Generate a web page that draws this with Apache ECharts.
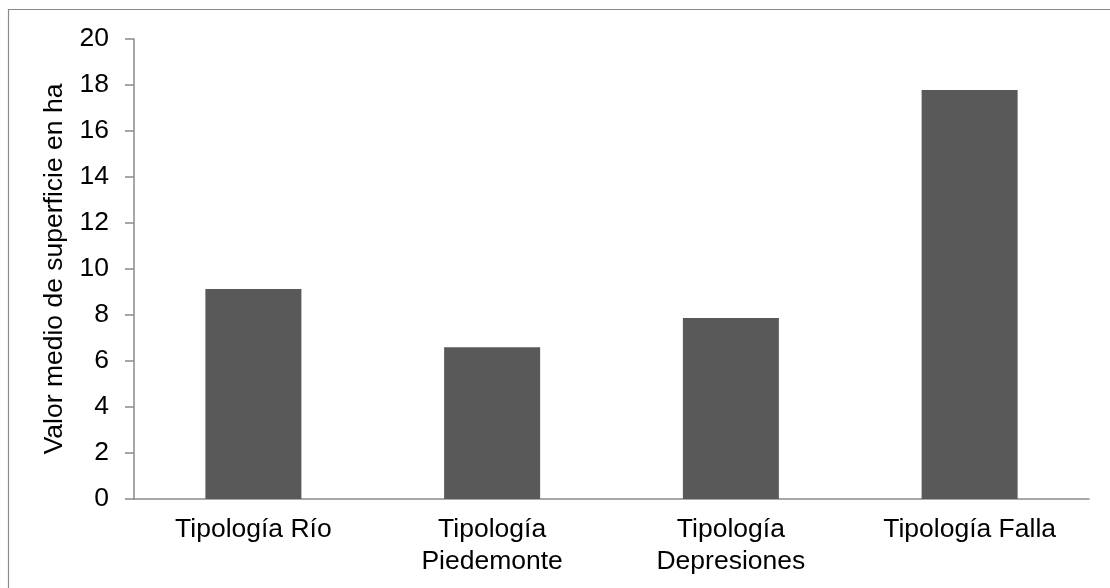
<!DOCTYPE html>
<html>
<head>
<meta charset="utf-8">
<script src="https://cdn.jsdelivr.net/npm/echarts@6/dist/echarts.min.js"></script>
<style>
  html, body { margin: 0; padding: 0; background: #fff; }
  #chart { width: 1110px; height: 588px; }
</style>
</head>
<body>
<div id="chart"></div>
<script>
// Mean surface area per typology (ha)
const categories = ['Tipología Río', 'Tipología\nPiedemonte', 'Tipología\nDepresiones', 'Tipología Falla'];
const meanArea = [9.13, 6.6, 7.87, 17.78];
const yTicks = { min: 0, max: 20, interval: 2 };
const yTitle = 'Valor medio de superficie en ha';

const FONT = '"Liberation Sans", Arial, sans-serif';
const FS = 26.5;
const chart = echarts.init(document.getElementById('chart'), null, { renderer: 'canvas' });

chart.setOption({
  animation: false,
  backgroundColor: '#ffffff',
  graphic: [{
    type: 'rect',
    shape: { x: 8.5, y: 9.5, width: 1300, height: 800 },
    style: { fill: 'none', stroke: '#8a8a8a', lineWidth: 1.2 },
    silent: true
  }],
  grid: { left: 134, right: 21, top: 39, bottom: 89, containLabel: false },
  xAxis: {
    type: 'category',
    data: categories,
    axisLine: { lineStyle: { color: '#8a8a8a', width: 1.5 } },
    axisTick: { show: false },
    axisLabel: {
      color: '#000', fontFamily: FONT, fontSize: FS, margin: 15,
      lineHeight: 32, interval: 0
    }
  },
  yAxis: {
    type: 'value',
    min: yTicks.min, max: yTicks.max, interval: yTicks.interval,
    name: yTitle,
    nameLocation: 'middle',
    nameGap: 64,
    nameTextStyle: { color: '#000', fontFamily: FONT, fontSize: FS },
    axisLine: { show: true, lineStyle: { color: '#8a8a8a', width: 1.5 } },
    axisTick: { show: true, length: 9, lineStyle: { color: '#8a8a8a', width: 1.5 } },
    splitLine: { show: false },
    axisLabel: { color: '#000', fontFamily: FONT, fontSize: FS, margin: 25 }
  },
  series: [{
    type: 'bar',
    data: meanArea,
    barWidth: 96,
    itemStyle: { color: '#595959' }
  }]
});
</script>
</body>
</html>
